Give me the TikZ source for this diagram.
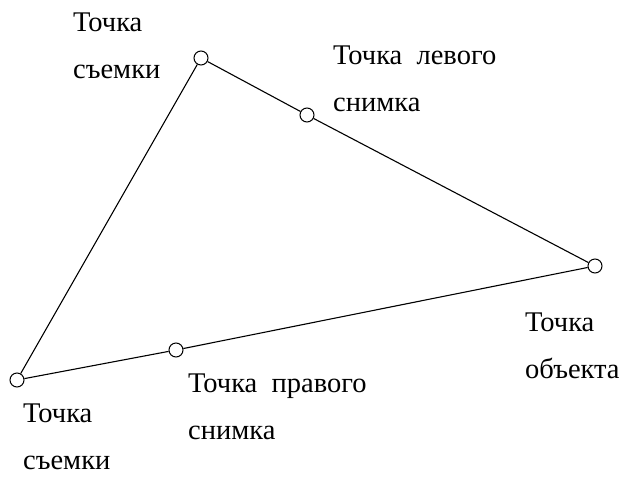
\documentclass[tikz,border=0pt]{standalone}
\usepackage{fontspec}
\setmainfont{Liberation Serif}
\tikzset{
	pt/.style={circle, draw, fill=white, minimum size=14pt, inner sep=0pt, line width=1pt},
	lbl/.style={anchor=north west, inner sep=0pt, align=left, font=\fontsize{28.5}{47}\selectfont},
	side/.style={line width=1.1pt}
}
\begin{document}
\begin{tikzpicture}[x=1pt, y=-1pt]
	\useasboundingbox (0,0) rectangle (624,477);
	% points of the triangle
	\node[pt] (stA) at (201,58) {};
	\node[pt] (obj) at (595,266) {};
	\node[pt] (stB) at (17,380) {};
	\node[pt] (imL) at (307,115) {};
	\node[pt] (imR) at (176,350) {};
	
	% sides
	\draw[side] (stA) -- (imL);
	\draw[side] (imL) -- (obj);
	\draw[side] (obj) -- (imR);
	\draw[side] (imR) -- (stB);
	\draw[side] (stB) -- (stA);
	
	% labels
	\node[lbl] (tA) at (73,13) {Точка\\съемки};
	\node[lbl] (tL) at (333,46) {Точка\hspace{0.5em}левого\\снимка};
	\node[lbl] (tO) at (525,313) {Точка\\объекта};
	\node[lbl] (tR) at (188,374) {Точка\hspace{0.5em}правого\\снимка};
	\node[lbl] (tB) at (23,404) {Точка\\съемки};
\end{tikzpicture}
\end{document}
